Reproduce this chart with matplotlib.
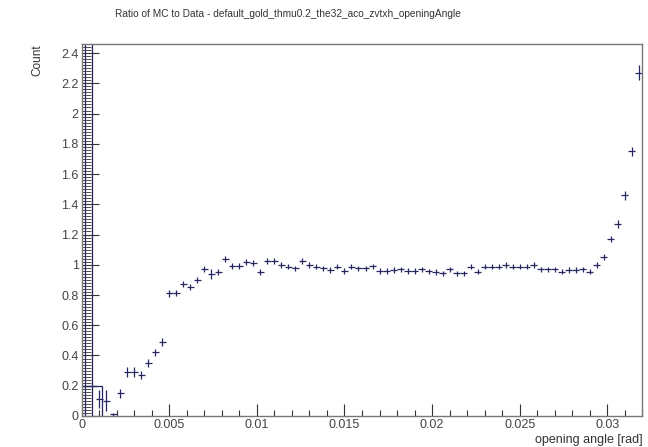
import numpy as np
import matplotlib
matplotlib.use("Agg")
import matplotlib.pyplot as plt
from matplotlib.ticker import MultipleLocator

title = "Ratio of MC to Data - default_gold_thmu0.2_the32_aco_zvtxh_openingAngle"
xlabel = "opening angle [rad]"
ylabel = "Count"

bin_width = 0.0004
n_bins = 80
ratio = [0.20, 0.20, 0.11, 0.10, 0.01, 0.15, 0.29, 0.29, 0.27, 0.35,
         0.42, 0.49, 0.81, 0.815, 0.87, 0.85, 0.90, 0.97, 0.94, 0.955,
         1.04, 0.99, 0.99, 1.02, 1.01, 0.955, 1.026, 1.026, 0.998, 0.987,
         0.976, 1.026, 0.998, 0.987, 0.976, 0.965, 0.987, 0.96, 0.987, 0.976,
         0.976, 0.99, 0.96, 0.96, 0.965, 0.97, 0.96, 0.96, 0.97, 0.957,
         0.952, 0.943, 0.969, 0.943, 0.943, 0.987, 0.954, 0.987, 0.987, 0.987,
         0.998, 0.987, 0.987, 0.987, 0.998, 0.969, 0.969, 0.969, 0.954, 0.965,
         0.965, 0.969, 0.954, 0.998, 1.053, 1.17, 1.27, 1.46, 1.75, 2.27]
ratio_err = [3.0, 3.0, 0.06, 0.07, 0.01, 0.03, 0.035, 0.035, 0.025, 0.025,
             0.025, 0.025, 0.02, 0.02, 0.02, 0.02, 0.02, 0.02, 0.035, 0.02,
             0.02, 0.02, 0.02, 0.02, 0.02, 0.02, 0.018, 0.018, 0.018, 0.018,
             0.018, 0.018, 0.018, 0.018, 0.018, 0.018, 0.018, 0.018, 0.018, 0.018,
             0.018, 0.018, 0.018, 0.018, 0.018, 0.018, 0.018, 0.018, 0.018, 0.018,
             0.018, 0.018, 0.018, 0.018, 0.018, 0.018, 0.018, 0.018, 0.018, 0.018,
             0.018, 0.018, 0.018, 0.018, 0.018, 0.018, 0.018, 0.018, 0.018, 0.018,
             0.018, 0.018, 0.018, 0.02, 0.02, 0.022, 0.025, 0.03, 0.03, 0.05]
# outline seen around the first bins
low_box_x = [0.0, 0.00116, 0.00116]
low_box_y = [0.2, 0.2, 0.0]

x_range = (0.0, 0.032)
y_range = (0.0, 2.46)

plt.rcParams['font.family'] = ['Liberation Sans', 'DejaVu Sans']

fig = plt.figure(figsize=(6.48, 4.47), dpi=100)
ax = fig.add_axes([0.1258, 0.0694, 0.8657, 0.8322])

centers = (np.arange(n_bins) + 0.5) * bin_width
col = '#262660'
ax.errorbar(centers, ratio, yerr=ratio_err, xerr=bin_width / 2, fmt='none',
            ecolor=col, elinewidth=0.9, capsize=0)
ax.plot(low_box_x, low_box_y, color=col, lw=0.9)

ax.set_xlim(*x_range)
ax.set_ylim(*y_range)

ax.xaxis.set_major_locator(MultipleLocator(0.005))
ax.xaxis.set_minor_locator(MultipleLocator(0.001))
ax.yaxis.set_major_locator(MultipleLocator(0.2))
ax.yaxis.set_minor_locator(MultipleLocator(0.02))

def fmt(v, p):
    s = ("%.3f" % v).rstrip('0').rstrip('.')
    return s
ax.xaxis.set_major_formatter(plt.FuncFormatter(fmt))
ax.yaxis.set_major_formatter(plt.FuncFormatter(fmt))

ax.tick_params(axis='x', which='major', direction='in', length=8.6, width=0.8,
               color='#333333', labelsize=9, pad=2, labelcolor='#444444')
ax.tick_params(axis='x', which='minor', direction='in', length=4.3, width=0.8,
               color='#333333')
ax.tick_params(axis='y', which='major', direction='in', length=12, width=0.8,
               color='#333333', labelsize=9, pad=2, labelcolor='#444444')
ax.tick_params(axis='y', which='minor', direction='in', length=6.5, width=0.6,
               color='#333333')
for s in ax.spines.values():
    s.set_color('#777777')
    s.set_linewidth(1.0)

fig.text(0.445, 0.968, title, ha='center', va='center', fontsize=7.3, color='#333333')
fig.text(0.9915, 0.003, xlabel, ha='right', va='bottom', fontsize=9, color='#333333')
fig.text(0.057, 0.9, ylabel, ha='center', va='top', rotation=90, fontsize=8.5, color='#333333')

fig.savefig("out.png", dpi=100)
